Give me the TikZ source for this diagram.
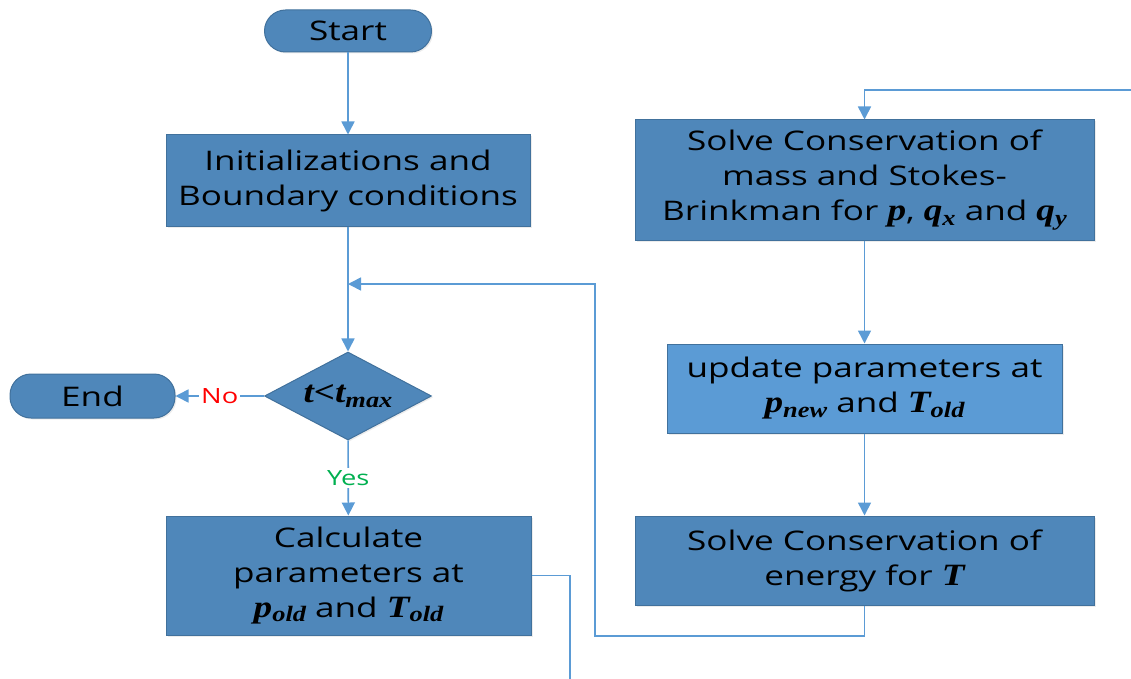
\documentclass[tikz,border=0pt]{standalone}
\usepackage{fontspec}
\setmainfont{Open Sans}[FakeStretch=1.3]
\newfontfamily\serifbi{Liberation Serif}[FakeStretch=1.2]
\usetikzlibrary{shapes.geometric,arrows.meta,shadows}
\definecolor{boxfill}{HTML}{4F87BA}
\definecolor{boxline}{HTML}{41719C}
\definecolor{updfill}{HTML}{5B9BD5}
\definecolor{arrowc}{HTML}{5B9BD5}
\definecolor{yesgreen}{HTML}{00B050}
\newcommand\mv[1]{{\fontsize{31}{31}\selectfont\serifbi\bfseries\itshape #1}}
\newcommand\msub[1]{\raisebox{-0.3ex}{\fontsize{22}{22}\selectfont\serifbi\bfseries\itshape #1}}
\begin{document}
\begin{tikzpicture}[x=1pt,y=-1pt,
  box/.style={draw=boxline, fill=boxfill, line width=1pt, align=center, inner sep=0pt,
    font=\fontsize{27}{35}\selectfont,
    drop shadow={opacity=0.15, shadow xshift=1.5pt, shadow yshift=-1.5pt}},
  term/.style={box, rounded corners=21pt},
  decision/.style={box, diamond, rounded corners=0pt},
  line/.style={draw=arrowc, line width=1.6pt},
  arr/.style={line, -{Triangle[length=13pt,width=13pt]}},
  lbl/.style={fill=white, inner sep=2pt, font=\fontsize{21}{21}\selectfont}
]
\useasboundingbox (0,0) rectangle (1131,679);

\node[term, minimum width=167pt, minimum height=42pt] (start) at (348,31) {Start};
\node[box, minimum width=364pt, minimum height=91pt] (init) at (348,180.5) {Initializations and\\Boundary conditions};
\node[decision, minimum width=167pt, minimum height=88pt, aspect=1.9] (dec) at (348,396) {\mv{t<t}\msub{max}};
\node[term, minimum width=165pt, minimum height=44pt] (end) at (92.5,396) {End};
\node[box, minimum width=365pt, minimum height=119pt] (calc) at (348.5,575.5) {Calculate\\parameters at\\\mv{p}\msub{old} and \mv{T}\msub{old}};
\node[box, minimum width=459pt, minimum height=120pt] (mass) at (864.5,180) {Solve Conservation of\\mass and Stokes-\\Brinkman for \mv{p}, \mv{q}\msub{x} and \mv{q}\msub{y}};
\node[box, fill=updfill, minimum width=395pt, minimum height=89pt] (upd) at (864.5,388.5) {update parameters at\\\mv{p}\msub{new} and \mv{T}\msub{old}};
\node[box, minimum width=459pt, minimum height=89pt] (energy) at (864.5,560.5) {Solve Conservation of\\energy for \mv{T}};

\coordinate (merge) at (348,284);
\coordinate (loopA) at (595,636);
\coordinate (loopB) at (595,284);
\coordinate (inR) at (1131,90);
\coordinate (outC) at (570,679);

\draw[arr] (start) -- (init);
\draw[line] (init) -- (merge);
\draw[arr] (merge) -- (dec);
\draw[arr] (dec) -- node[lbl, text=red] {No} (end);
\draw[arr] (dec) -- node[lbl, text=yesgreen] {Yes} (calc);
\draw[line] (calc.east) -| (outC);
\draw[arr] (inR) -| (mass.north);
\draw[arr] (mass) -- (upd);
\draw[arr] (upd) -- (energy);
\draw[arr] (energy.south) |- (loopA) -- (loopB) -- (merge);
\end{tikzpicture}
\end{document}
